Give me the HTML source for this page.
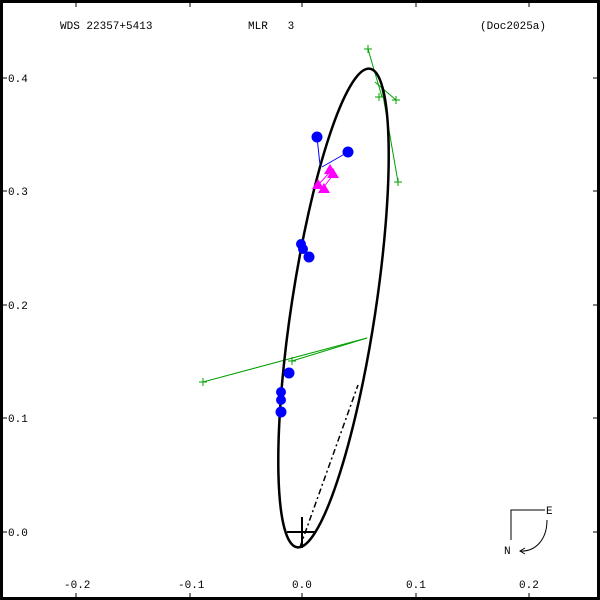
<!DOCTYPE html>
<html><head><style>
html,body{margin:0;padding:0;background:#fff}
svg{display:block}
text{font-family:"Liberation Mono","DejaVu Sans Mono",monospace;font-size:11px;fill:#000;white-space:pre}
</style></head><body>
<svg width="600" height="600" viewBox="0 0 600 600">
<rect x="1.5" y="1.5" width="597" height="597" fill="none" stroke="#000" stroke-width="3"/>
<g stroke="#000" stroke-width="1">
<line x1="76" y1="3" x2="76" y2="7"/><line x1="190" y1="3" x2="190" y2="7"/><line x1="302" y1="3" x2="302" y2="7"/><line x1="416" y1="3" x2="416" y2="7"/><line x1="529" y1="3" x2="529" y2="7"/>
<line x1="76" y1="597" x2="76" y2="593"/><line x1="190" y1="597" x2="190" y2="593"/><line x1="302" y1="597" x2="302" y2="593"/><line x1="416" y1="597" x2="416" y2="593"/><line x1="529" y1="597" x2="529" y2="593"/>
<line x1="3" y1="78" x2="7" y2="78"/><line x1="3" y1="191" x2="7" y2="191"/><line x1="3" y1="305" x2="7" y2="305"/><line x1="3" y1="418" x2="7" y2="418"/><line x1="3" y1="532" x2="7" y2="532"/>
<line x1="597" y1="78" x2="593" y2="78"/><line x1="597" y1="191" x2="593" y2="191"/><line x1="597" y1="305" x2="593" y2="305"/><line x1="597" y1="418" x2="593" y2="418"/><line x1="597" y1="532" x2="593" y2="532"/>
</g>
<text x="8" y="82">0.4</text><text x="8" y="195">0.3</text><text x="8" y="309">0.2</text><text x="8" y="422">0.1</text><text x="8" y="536">0.0</text>
<text x="64" y="588">-0.2</text><text x="178" y="588">-0.1</text><text x="292" y="588">0.0</text><text x="406" y="588">0.1</text><text x="519" y="588">0.2</text>
<text x="60" y="29">WDS 22357+5413</text><text x="248" y="29" xml:space="preserve">MLR   3</text><text x="480" y="29">(Doc2025a)</text>
<g stroke="#00a000" stroke-width="1" fill="none">
<line x1="368" y1="49" x2="382" y2="97"/>
<line x1="396" y1="100" x2="375" y2="82"/>
<line x1="398" y1="182" x2="381" y2="84"/>
<line x1="203" y1="382" x2="367" y2="338"/><line x1="292" y1="361" x2="367" y2="338"/>
</g>
<g stroke="#00a000" stroke-width="1">
<path d="M364 49h8M368 45v8M375 97h8M379 93v8M392 100h8M396 96v8M394 182h8M398 178v8M199 382h8M203 378v8M288 361h8M292 357v8"/>
</g>
<ellipse cx="333.5" cy="308" rx="42" ry="242" fill="none" stroke="#000" stroke-width="2.5" transform="rotate(8.65 333.5 308)"/>
<line x1="300" y1="547" x2="358" y2="385" stroke="#000" stroke-width="1.5" stroke-dasharray="6,3,2,3"/>
<path d="M287 532h28M302 517v31" stroke="#000" stroke-width="2"/>
<g stroke="#0000ff" stroke-width="1">
<line x1="317" y1="137" x2="320" y2="165"/><line x1="348" y1="152" x2="322" y2="167"/>
</g>
<g fill="#0000ff">
<circle cx="317" cy="137" r="5.5"/><circle cx="348" cy="152" r="5.5"/>
<circle cx="301" cy="244" r="5"/><circle cx="303" cy="249" r="5"/><circle cx="309" cy="257" r="5.5"/>
<circle cx="289" cy="373" r="5.5"/><circle cx="281" cy="392" r="5"/><circle cx="281" cy="400" r="5"/><circle cx="281" cy="412" r="5.5"/>
</g>
<g stroke="#ff00ff" stroke-width="1"><line x1="318" y1="185" x2="330" y2="172"/><line x1="323" y1="188" x2="333" y2="175"/></g>
<g fill="#ff00ff">
<polygon points="330,164 336,174 324,174"/><polygon points="333,168 339,178 327,178"/>
<polygon points="318,179 324,189 312,189"/><polygon points="324,183 330,193 318,193"/>
</g>
<path d="M545 510H511V540" fill="none" stroke="#000"/>
<text x="546" y="514">E</text><text x="504" y="554">N</text>
<path d="M547 520C547 540 535 552 520 551" fill="none" stroke="#000"/>
<path d="M525 548L520 551L525 554" fill="none" stroke="#000"/>
</svg>
</body></html>
